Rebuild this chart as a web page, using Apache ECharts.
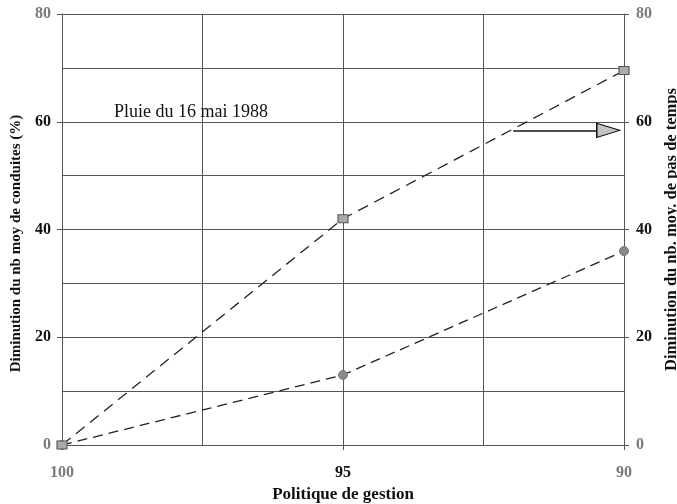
<!DOCTYPE html>
<html>
<head>
<meta charset="utf-8">
<script src="https://cdn.jsdelivr.net/npm/echarts@6/dist/echarts.min.js"></script>
<style>
  html, body { margin: 0; padding: 0; background: #fff; }
  #chart { width: 677px; height: 504px; }
</style>
</head>
<body>
<div id="chart"></div>
<script>
// Management policy levels (x) and the two reductions (%)
const politiques = [100, 95, 90];
const conduites = [0, 13, 36];        // reduction of mean number of pipe operations
const pasDeTemps = [0, 42, 69.5];     // reduction of mean number of time steps
const titreEvenement = 'Pluie du 16 mai 1988';
// arrow pointing to the right-hand axis
const flecheY = 58.4;
const flecheDebut = 91.97;
const flecheFin = 90.48;
const flechePointe = 90.28;

const serif = 'Liberation Serif';
const grayLabels = new Set([0, 80, 100, 90]);
function labelColor(v) { return grayLabels.has(Number(v)) ? '#7a7a7a' : '#111'; }

const gridLine = { color: '#555', width: 1 };

const chart = echarts.init(document.getElementById('chart'));
chart.setOption({
  animation: false,
  backgroundColor: '#fff',
  title: {
    text: titreEvenement,
    left: 109, top: 98,
    textStyle: { fontFamily: serif, fontSize: 18, fontWeight: 'normal', color: '#111' }
  },
  grid: { left: 62, right: 53, top: 14, bottom: 59, containLabel: false, outerBoundsMode: 'none' },
  xAxis: {
    type: 'value', min: 90, max: 100, interval: 5, inverse: true,
    name: 'Politique de gestion', nameLocation: 'middle', nameGap: 39,
    nameTextStyle: { fontFamily: serif, fontSize: 17, fontWeight: 'bold', color: '#111' },
    axisLine: { show: true, lineStyle: gridLine },
    axisTick: { show: true, length: 5, lineStyle: { color: '#555' } },
    axisLabel: { fontFamily: serif, fontSize: 16, fontWeight: 'bold', margin: 20, color: labelColor },
    splitLine: { show: true, lineStyle: gridLine },
    minorTick: { show: false, splitNumber: 2 },
    minorSplitLine: { show: true, lineStyle: gridLine }
  },
  yAxis: [
    {
      type: 'value', min: 0, max: 80, interval: 20, position: 'left',
      name: 'Diminution du nb moy de conduites (%)', nameLocation: 'middle', nameGap: 33,
      nameTextStyle: { fontFamily: serif, fontSize: 15, fontWeight: 'bold', color: '#111', padding: [0, 28, 0, 0] },
      axisLine: { show: true, lineStyle: gridLine },
      axisTick: { show: true, length: 5, lineStyle: { color: '#555' } },
      axisLabel: { fontFamily: serif, fontSize: 16, fontWeight: 'bold', margin: 11, color: labelColor },
      splitLine: { show: true, lineStyle: gridLine },
      minorTick: { show: false, splitNumber: 2 },
      minorSplitLine: { show: true, lineStyle: gridLine }
    },
    {
      type: 'value', min: 0, max: 80, interval: 20, position: 'right',
      name: 'Diminution du nb. moy. de pas de temps', nameLocation: 'middle', nameGap: 31,
      nameTextStyle: { fontFamily: serif, fontSize: 16.5, fontWeight: 'bold', color: '#111' },
      axisLine: { show: true, lineStyle: gridLine },
      axisTick: { show: true, length: 5, lineStyle: { color: '#555' } },
      axisLabel: { fontFamily: serif, fontSize: 16, fontWeight: 'bold', margin: 12, color: labelColor },
      splitLine: { show: false }
    }
  ],
  series: [
    {
      name: 'conduites', type: 'line', yAxisIndex: 0,
      data: politiques.map((p, i) => [p, conduites[i]]),
      symbol: 'circle', symbolSize: 9,
      itemStyle: { color: '#8a8a8a', borderColor: '#777', borderWidth: 1 },
      lineStyle: { color: '#222', width: 1.3, type: [10, 6] },
      z: 3
    },
    {
      name: 'pas de temps', type: 'line', yAxisIndex: 1,
      data: politiques.map((p, i) => [p, pasDeTemps[i]]),
      symbol: 'rect', symbolSize: [10, 8],
      itemStyle: { color: '#aaa', borderColor: '#555', borderWidth: 1 },
      lineStyle: { color: '#222', width: 1.3, type: [11, 7] },
      z: 3,
      markLine: {
        silent: true,
        symbol: ['none', 'none'],
        label: { show: false },
        lineStyle: { color: '#111', width: 1.5, type: 'solid' },
        data: [[
          { coord: [flecheDebut, flecheY] },
          { coord: [flecheFin, flecheY] }
        ]]
      },
      markPoint: {
        silent: true,
        symbol: 'triangle',
        symbolSize: [14, 23],
        symbolRotate: -90,
        label: { show: false },
        itemStyle: { color: '#c4c4c4', borderColor: '#111', borderWidth: 1.2 },
        data: [{ coord: [flechePointe, flecheY] }]
      }
    }
  ]
});
</script>
</body>
</html>
